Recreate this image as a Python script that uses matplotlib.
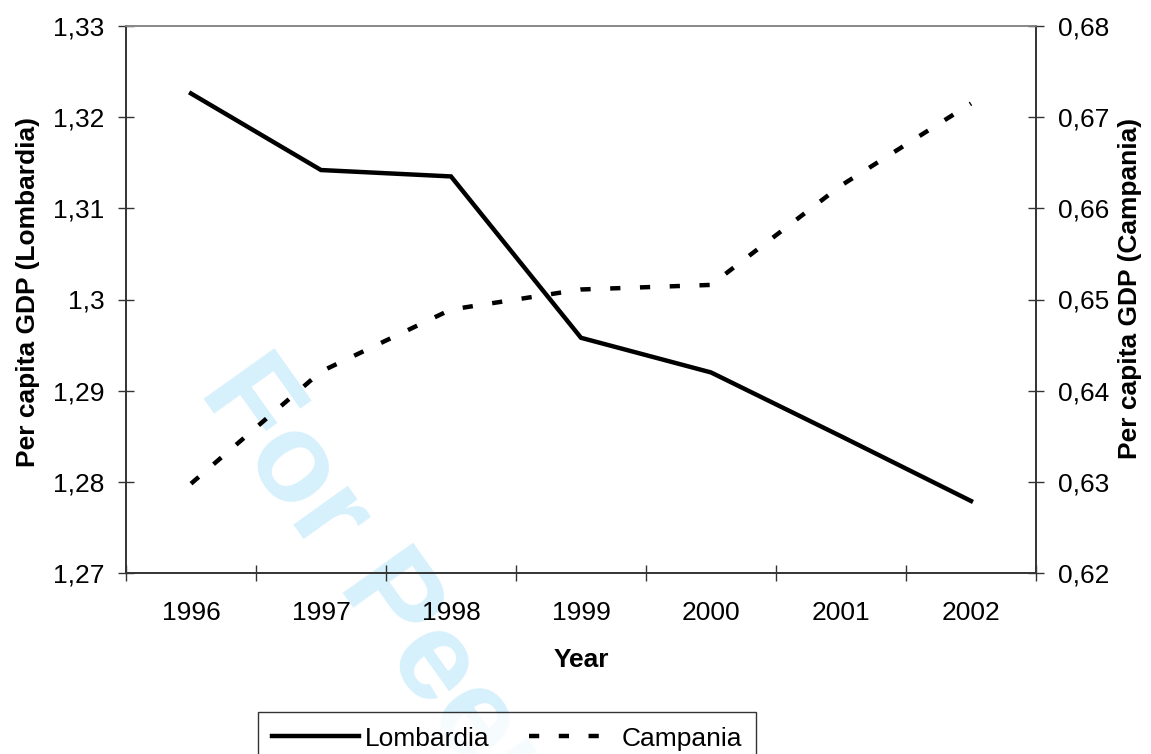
import matplotlib.pyplot as plt
from matplotlib.ticker import FixedLocator, NullFormatter

plt.rcParams['font.family'] = ['Liberation Sans', 'DejaVu Sans']

# Data
years = ['1996', '1997', '1998', '1999', '2000', '2001', '2002']
lombardia = [1.3226, 1.3142, 1.3135, 1.2958, 1.2920, 1.2850, 1.2779]
campania = [0.6298, 0.6421, 0.6489, 0.6511, 0.6516, 0.6625, 0.6715]

left_ticks = [1.27, 1.28, 1.29, 1.30, 1.31, 1.32, 1.33]
left_labels = ['1,27', '1,28', '1,29', '1,3', '1,31', '1,32', '1,33']
right_ticks = [0.62, 0.63, 0.64, 0.65, 0.66, 0.67, 0.68]
right_labels = ['0,62', '0,63', '0,64', '0,65', '0,66', '0,67', '0,68']

fs = 19

fig = plt.figure(figsize=(11.51, 7.54), dpi=100)
ax = fig.add_axes([126/1151, 1-573/754, 910/1151, 547/754])
ax2 = ax.twinx()
ax2.patch.set_visible(False)

x = list(range(len(years)))

# Watermark behind the lines
ax.text(198/1151, 1-391/754, 'For Peer Review', transform=fig.transFigure,
        rotation=-54.5, rotation_mode='anchor', ha='left', va='baseline',
        fontsize=91, fontweight='bold', color='#d6f0fc', zorder=0.5,
        clip_on=False)

l1, = ax.plot(x, lombardia, color='black', lw=3.2, solid_joinstyle='miter',
              label='Lombardia', zorder=3)
l2, = ax2.plot(x, campania, color='black', lw=3.2, linestyle=(0, (2.3, 4.4)),
               dash_capstyle='butt', label='Campania', zorder=3)

ax.set_xlim(-0.5, len(years) - 0.5)
ax.set_ylim(1.27, 1.33)
ax2.set_ylim(0.62, 0.68)

# category ticks between years, labels at centers
ax.xaxis.set_major_locator(FixedLocator([i - 0.5 for i in range(len(years) + 1)]))
ax.xaxis.set_major_formatter(NullFormatter())
ax.xaxis.set_minor_locator(FixedLocator(x))
ax.set_xticklabels(years, minor=True)
ax.tick_params(axis='x', which='major', direction='inout', length=12, width=1, color='#333333')
ax.tick_params(axis='x', which='minor', length=0, pad=20, labelsize=fs)

ax.set_yticks(left_ticks)
ax.set_yticklabels(left_labels)
ax.tick_params(axis='y', direction='inout', length=12, width=1, color='#333333',
               pad=9.5, labelsize=fs)
ax2.set_yticks(right_ticks)
ax2.set_yticklabels(right_labels)
ax2.tick_params(axis='y', direction='inout', length=12, width=1, color='#333333',
                pad=9.5, labelsize=fs)

for a in (ax, ax2):
    for s in ['left', 'right', 'bottom']:
        a.spines[s].set_color('#333333')
        a.spines[s].set_linewidth(1.2)
    a.spines['top'].set_color('#888888')
    a.spines['top'].set_linewidth(1.2)

ax.set_xlabel('Year', fontsize=fs, fontweight='bold', labelpad=17)
ax.set_ylabel('Per capita GDP (Lombardia)', fontsize=fs, fontweight='bold')
ax2.set_ylabel('Per capita GDP (Campania)', fontsize=fs, fontweight='bold')
ax.yaxis.set_label_coords(-0.0945, 0.5137)
ax2.yaxis.set_label_coords(1.0901, 0.521)

leg = fig.legend(handles=[l1, l2], loc='upper center', bbox_to_anchor=(507/1151, 1-712/754),
                 ncol=2, fontsize=fs, frameon=True, fancybox=False, edgecolor='black',
                 handlelength=3.3, handletextpad=0.2, columnspacing=1.5,
                 borderpad=0.55, borderaxespad=0)
leg.get_frame().set_linewidth(1.0)

plt.savefig('out.png', dpi=100)
